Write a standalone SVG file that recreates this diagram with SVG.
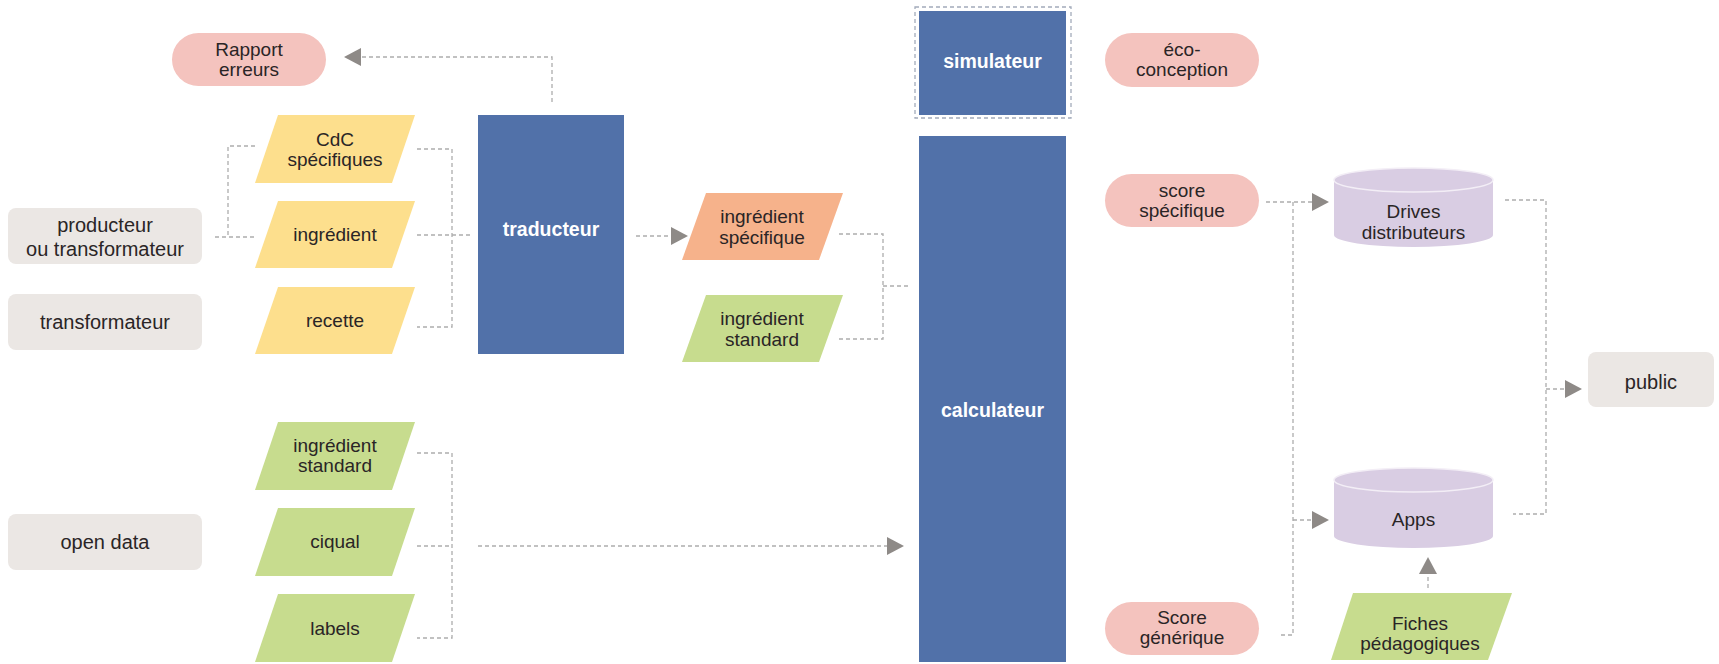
<svg xmlns="http://www.w3.org/2000/svg" width="1719" height="664" viewBox="0 0 1719 664">
<defs>
<style>
text{font-family:"Liberation Sans",Arial,sans-serif;font-size:19px;fill:#2a2526;text-anchor:middle}
.w{fill:#ffffff;font-weight:bold;font-size:19.5px}
.g20{font-size:20px}
.gray{fill:#ebe7e4}
.pink{fill:#f4c3be}
.yel{fill:#fddf8d}
.grn{fill:#c7dc8e}
.org{fill:#f6b28b}
.blue{fill:#5171a9}
.pur{fill:#d9cde3}
.dash{fill:none;stroke:#adadad;stroke-width:1.3;stroke-dasharray:4 3}
.arr{marker-end:url(#ah)}
</style>
<marker id="ah" markerUnits="userSpaceOnUse" markerWidth="18" markerHeight="18" refX="0" refY="9" orient="auto">
<path d="M0,0 L17,9 L0,18 Z" fill="#8e8a87"/>
</marker>
</defs>
<rect width="1719" height="664" fill="#ffffff"/>

<g id="connectors">
<path class="dash arr" d="M552,102 V57 H361"/>
<path class="dash" d="M255,146 H228 V237 M215,237 H255"/>
<path class="dash" d="M417,149 H452 V327 H417 M417,235 H470"/>
<path class="dash arr" d="M636,236 H671"/>
<path class="dash" d="M839,234 H883 V339 H836 M883,286 H909"/>
<path class="dash" d="M417,453 H452 V638 H417 M417,546 H452"/>
<path class="dash arr" d="M478,546 H887"/>
<path class="dash arr" d="M1266,202 H1312"/>
<path class="dash" d="M1293,202 V635 H1278"/>
<path class="dash arr" d="M1293,520 H1312"/>
<path class="dash" d="M1505,200 H1546 V514 H1513"/>
<path class="dash arr" d="M1546,389 H1565"/>
<path class="dash arr" d="M1428,588 V574"/>
</g>

<g id="rapport"><rect class="pink" x="172" y="33" width="154" height="53" rx="26.5"/><text x="249" y="56">Rapport</text><text x="249" y="76">erreurs</text></g>

<g id="producteur"><rect class="gray" x="8" y="208" width="194" height="56" rx="8"/><text class="g20" x="105" y="232">producteur</text><text class="g20" x="105" y="256">ou transformateur</text></g>
<g id="transformateur"><rect class="gray" x="8" y="294" width="194" height="56" rx="8"/><text class="g20" x="105" y="329">transformateur</text></g>
<g id="opendata"><rect class="gray" x="8" y="514" width="194" height="56" rx="8"/><text class="g20" x="105" y="549">open data</text></g>

<g id="cdc"><polygon class="yel" points="278,115 415,115 392,183 255,183"/><text x="335" y="146">CdC</text><text x="335" y="166">spécifiques</text></g>
<g id="ingredient"><polygon class="yel" points="278,201 415,201 392,268 255,268"/><text x="335" y="241">ingrédient</text></g>
<g id="recette"><polygon class="yel" points="278,287 415,287 392,354 255,354"/><text x="335" y="327">recette</text></g>

<g id="ing-std-od"><polygon class="grn" points="278,422 415,422 392,490 255,490"/><text x="335" y="452">ingrédient</text><text x="335" y="472">standard</text></g>
<g id="ciqual"><polygon class="grn" points="278,508 415,508 392,576 255,576"/><text x="335" y="548">ciqual</text></g>
<g id="labels"><polygon class="grn" points="278,594 415,594 392,662 255,662"/><text x="335" y="635">labels</text></g>

<g id="traducteur"><rect class="blue" x="478" y="115" width="146" height="239"/><text class="w" x="551" y="236">traducteur</text></g>

<g id="ing-spec"><polygon class="org" points="706,193 843,193 819,260 682,260"/><text x="762" y="223">ingrédient</text><text x="762" y="244">spécifique</text></g>
<g id="ing-std"><polygon class="grn" points="706,295 843,295 819,362 682,362"/><text x="762" y="325">ingrédient</text><text x="762" y="346">standard</text></g>

<g id="simulateur"><rect x="915" y="7" width="156" height="111" fill="none" stroke="#a3abbb" stroke-width="1.3" stroke-dasharray="4 3"/><rect class="blue" x="919" y="11" width="147" height="104"/><text class="w" x="992.5" y="68">simulateur</text></g>
<g id="calculateur"><rect class="blue" x="919" y="136" width="147" height="526"/><text class="w" x="992.5" y="417">calculateur</text></g>

<g id="eco"><rect class="pink" x="1105" y="33" width="154" height="54" rx="27"/><text x="1182" y="56">éco-</text><text x="1182" y="76">conception</text></g>
<g id="score-spec"><rect class="pink" x="1105" y="174" width="154" height="53" rx="26.5"/><text x="1182" y="197">score</text><text x="1182" y="217">spécifique</text></g>
<g id="score-gen"><rect class="pink" x="1105" y="602" width="154" height="53" rx="26.5"/><text x="1182" y="624">Score</text><text x="1182" y="644">générique</text></g>

<g id="drives"><path class="pur" d="M1334,180 V235 A79.5,12 0 0 0 1493,235 V180 Z"/><ellipse class="pur" cx="1413.5" cy="180" rx="79.5" ry="12" stroke="#f3eef6" stroke-width="1.5"/><text x="1413.5" y="218">Drives</text><text x="1413.5" y="239">distributeurs</text></g>
<g id="apps"><path class="pur" d="M1334,480 V536 A79.5,12 0 0 0 1493,536 V480 Z"/><ellipse class="pur" cx="1413.5" cy="480" rx="79.5" ry="12" stroke="#f3eef6" stroke-width="1.5"/><text x="1413.5" y="526">Apps</text></g>

<g id="fiches"><polygon class="grn" points="1353,593 1512,593 1488,660 1331,660"/><text x="1420" y="630">Fiches</text><text x="1420" y="650">pédagogiques</text></g>

<g id="public"><rect class="gray" x="1588" y="352" width="126" height="55" rx="8"/><text class="g20" x="1651" y="389">public</text></g>
</svg>
